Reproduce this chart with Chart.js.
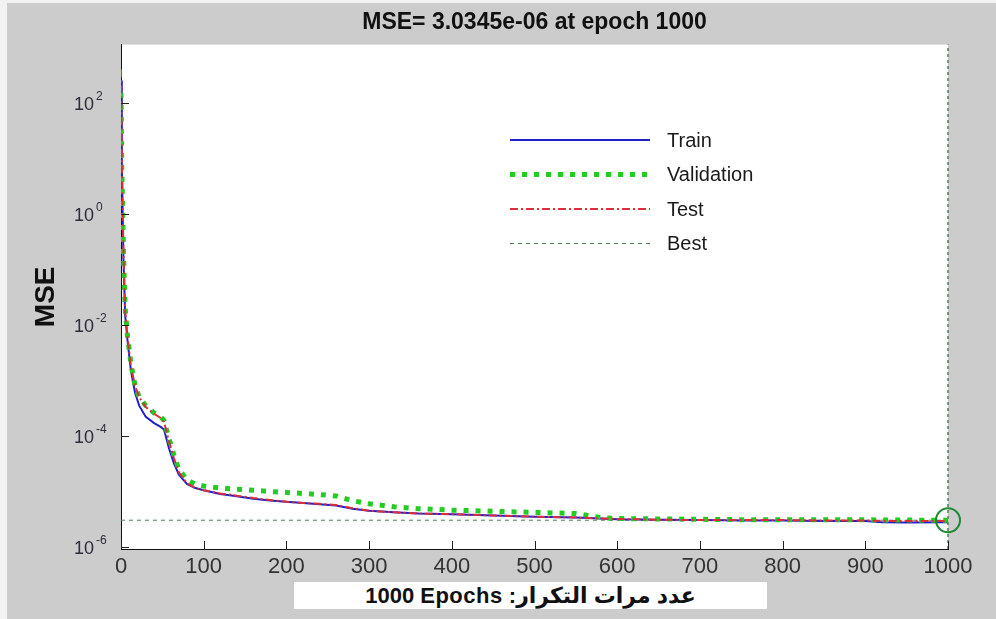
<!DOCTYPE html>
<html>
<head>
<meta charset="utf-8">
<script src="https://cdn.jsdelivr.net/npm/chart.js@4.4.1/dist/chart.umd.min.js"></script>
<style>
  html, body { margin: 0; padding: 0; background: #cccccc; }
  #wrap { position: relative; width: 996px; height: 619px; }
  #xlabel {
    position: absolute; left: 294px; top: 582px; width: 473px; height: 27px;
    background: #ffffff; color: #111;
    font: bold 22px "Liberation Sans", Arial, "DejaVu Sans", sans-serif;
    letter-spacing: 0.5px;
    line-height: 27px; text-align: center;
  }
</style>
</head>
<body>
<div id="wrap">
  <canvas id="c" width="996" height="619"></canvas>
  <div id="xlabel" dir="rtl">عدد مرات التكرار: <span dir="ltr">1000 Epochs</span></div>
</div>
<script>
// ---- data ----
const epochs = [0,1,2,3,5,8,12,17,22,30,40,48,52,58,64,70,80,90,100,120,140,160,180,200,220,240,260,280,300,330,360,400,450,500,550,580,600,650,700,750,800,850,900,920,950,1000];
const trainMSE = [250,8,1,0.15,0.015,0.005,0.0015,6e-4,3.5e-4,2.2e-4,1.7e-4,1.45e-4,1.3e-4,6e-5,3.2e-5,2e-5,1.35e-5,1.15e-5,1.05e-5,9e-6,8.2e-6,7.4e-6,6.9e-6,6.5e-6,6.2e-6,5.9e-6,5.6e-6,4.9e-6,4.5e-6,4.2e-6,4.0e-6,3.9e-6,3.7e-6,3.5e-6,3.4e-6,3.25e-6,3.15e-6,3.1e-6,3.05e-6,3.0e-6,3.0e-6,2.95e-6,2.95e-6,2.8e-6,2.75e-6,2.8e-6];
const validationMSE = [150,6,1.2,0.2,0.02,0.006,0.002,8e-4,5e-4,3.5e-4,2.6e-4,2.2e-4,1.9e-4,9e-5,4.5e-5,2.5e-5,1.6e-5,1.35e-5,1.25e-5,1.15e-5,1.1e-5,1.05e-5,1.0e-5,9.6e-6,9.2e-6,8.8e-6,8.3e-6,6.8e-6,6.0e-6,5.3e-6,4.9e-6,4.6e-6,4.4e-6,4.2e-6,4.0e-6,3.4e-6,3.25e-6,3.2e-6,3.15e-6,3.1e-6,3.1e-6,3.1e-6,3.1e-6,3.05e-6,3.05e-6,3.0345e-6];
const testMSE = [400,10,1.3,0.2,0.018,0.006,0.0018,8e-4,5e-4,3.3e-4,2.5e-4,2.1e-4,1.8e-4,8e-5,4e-5,2.2e-5,1.4e-5,1.15e-5,1.05e-5,9.2e-6,8.4e-6,7.6e-6,7.0e-6,6.5e-6,6.2e-6,6.0e-6,5.7e-6,5.0e-6,4.5e-6,4.2e-6,4.0e-6,3.9e-6,3.7e-6,3.5e-6,3.4e-6,3.25e-6,3.2e-6,3.1e-6,3.05e-6,3.05e-6,3.05e-6,3.0e-6,3.0e-6,2.95e-6,2.95e-6,2.95e-6];
const bestEpoch = 1000;
const bestMSE = 3.0345e-6;
const seriesLabels = ['Train','Validation','Test','Best'];
const yTickExponents = [2, 0, -2, -4, -6];
const xTickValues = [0,100,200,300,400,500,600,700,800,900,1000];
const titleText = 'MSE= 3.0345e-06 at epoch 1000';
const yTitleText = 'MSE';

const Y_MIN = 9.2e-7, Y_MAX = 1110;
const pts = (xs, ys) => xs.map((x, i) => ({x: x, y: ys[i]}));

const FONT = '"Liberation Sans", Arial, sans-serif';

const bgPlugin = {
  id: 'bg',
  beforeDraw(chart) {
    const ctx = chart.ctx, a = chart.chartArea;
    ctx.save();
    ctx.fillStyle = '#f2f2f2';
    ctx.fillRect(0, 0, chart.width, chart.height);
    ctx.fillStyle = '#cccccc';
    ctx.fillRect(7, 3, chart.width - 7, chart.height - 3);
    ctx.fillStyle = '#ffffff';
    ctx.fillRect(a.left, a.top, a.right - a.left, a.bottom - a.top);
    ctx.restore();
  },
  afterDraw(chart) {
    const ctx = chart.ctx, a = chart.chartArea;
    const xs = chart.scales.x, ys = chart.scales.y;
    ctx.save();
    // inward tick marks
    ctx.strokeStyle = '#222';
    ctx.lineWidth = 1;
    ctx.setLineDash([]);
    xTickValues.forEach(v => {
      const px = Math.round(xs.getPixelForValue(v)) + 0.5;
      ctx.beginPath(); ctx.moveTo(px, a.bottom); ctx.lineTo(px, a.bottom - 8); ctx.stroke();
    });
    yTickExponents.forEach(e => {
      const py = Math.round(ys.getPixelForValue(Math.pow(10, e))) + 0.5;
      ctx.beginPath(); ctx.moveTo(a.left, py); ctx.lineTo(a.left + 8, py); ctx.stroke();
      // labels 10^e
      ctx.fillStyle = '#2c2c3a';
      ctx.font = '18px ' + FONT;
      ctx.textAlign = 'right'; ctx.textBaseline = 'middle';
      ctx.fillText('10', 94, py + 2);
      ctx.font = '12px ' + FONT;
      ctx.textAlign = 'left';
      ctx.fillText(String(e), 96, py - 7);
    });
    // legend
    const ds = chart.data.datasets;
    for (let i = 0; i < 4; i++) {
      const d = ds[i];
      const y = 140 + i * 34.5;
      ctx.strokeStyle = d.borderColor;
      ctx.lineWidth = d.borderWidth;
      ctx.setLineDash(d.borderDash || []);
      ctx.beginPath(); ctx.moveTo(510, y); ctx.lineTo(650, y); ctx.stroke();
      ctx.setLineDash([]);
      ctx.fillStyle = '#1a1a1a';
      ctx.font = '20px ' + FONT;
      ctx.textAlign = 'left'; ctx.textBaseline = 'middle';
      ctx.fillText(d.label, 667, y + 1);
    }
    ctx.restore();
  }
};

new Chart(document.getElementById('c'), {
  type: 'line',
  data: {
    datasets: [
      { label: seriesLabels[0], data: pts(epochs, trainMSE), borderColor: '#2020c8', borderWidth: 2, pointRadius: 0, tension: 0, order: 3 },
      { label: seriesLabels[1], data: pts(epochs, validationMSE), borderColor: '#22cc22', borderWidth: 5, borderDash: [5, 7], pointRadius: 0, tension: 0, order: 2 },
      { label: seriesLabels[2], data: pts(epochs, testMSE), borderColor: '#d8303a', borderWidth: 2, borderDash: [8, 3, 2, 3], pointRadius: 0, tension: 0, order: 1 },
      { label: seriesLabels[3], data: [{x: epochs[0], y: bestMSE}, {x: bestEpoch, y: bestMSE}], borderColor: '#4c7f55', borderWidth: 1, borderDash: [4, 4], pointRadius: 0, order: 4 },
      { label: 'Best epoch', data: [{x: bestEpoch, y: Y_MIN}, {x: bestEpoch, y: Y_MAX}], borderColor: '#4c7f55', borderWidth: 1.5, borderDash: [3, 3], pointRadius: 0, clip: false, order: 5 },
      { label: 'Best point', data: [{x: bestEpoch, y: bestMSE}], showLine: false, pointRadius: 12, pointHoverRadius: 12, pointStyle: 'circle', pointBorderColor: '#1e8a32', pointBorderWidth: 2, pointBackgroundColor: 'rgba(0,0,0,0)', borderColor: '#1e8a32', clip: false, order: 0 }
    ]
  },
  options: {
    responsive: false,
    animation: false,
    devicePixelRatio: 1,
    layout: { padding: { left: 0, right: 48, top: 0, bottom: 0 } },
    plugins: {
      legend: { display: false },
      tooltip: { enabled: false },
      title: {
        display: true, text: titleText, fullSize: false,
        color: '#111', font: { family: FONT, size: 23, weight: 'bold' },
        padding: { top: 9, bottom: 8 }
      }
    },
    scales: {
      x: {
        type: 'linear', min: 0, max: 1000,
        afterBuildTicks: s => { s.ticks = xTickValues.map(v => ({value: v})); },
        ticks: { color: '#333', font: { family: FONT, size: 22 }, padding: 5, maxRotation: 0, autoSkip: false, callback: v => String(v) },
        grid: { display: false, drawTicks: false },
        border: { display: true, color: '#111', width: 1 },
        afterFit: s => { s.height = 70; }
      },
      y: {
        type: 'logarithmic', min: Y_MIN, max: Y_MAX,
        ticks: { display: false },
        grid: { display: false, drawTicks: false },
        border: { display: true, color: '#111', width: 1 },
        title: { display: true, text: yTitleText, color: '#111', font: { family: FONT, size: 28, weight: 'bold' }, padding: { top: 29, bottom: 0 } },
        afterFit: s => { s.width = 121; }
      }
    }
  },
  plugins: [bgPlugin]
});
</script>
</body>
</html>
